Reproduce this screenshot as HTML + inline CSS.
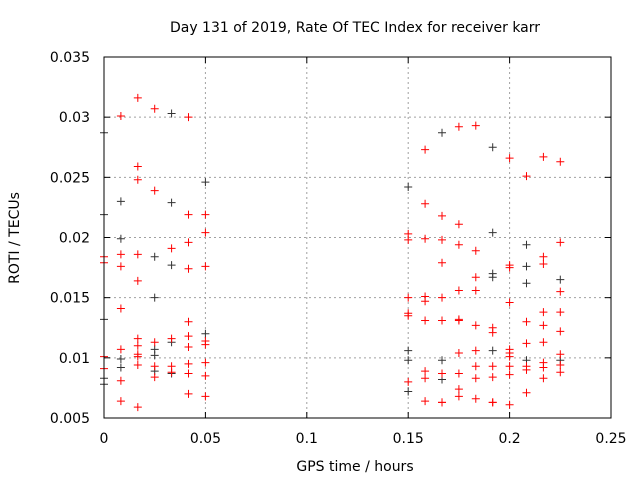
<!DOCTYPE html>
<html><head><meta charset="utf-8"><style>
body{margin:0;background:#fff;}
svg{display:block;font-family:"DejaVu Sans","Liberation Sans",sans-serif;}
</style></head><body>
<svg id="chart" width="640" height="480">
<text x="355" y="32" font-size="14" text-anchor="middle">Day 131 of 2019, Rate Of TEC Index for receiver karr</text>
<text x="355" y="471" font-size="14" text-anchor="middle">GPS time / hours</text>
<text transform="translate(19,238) rotate(-90)" font-size="14" text-anchor="middle">ROTI / TECUs</text>
<g id="grid"></g><g id="marks"></g><g id="axes"></g>
</svg>
<script>
const xTicks=[0,0.05,0.1,0.15,0.2,0.25];
const xTickLabels=["0","0.05","0.1","0.15","0.2","0.25"];
const yTicks=[0.005,0.01,0.015,0.02,0.025,0.03,0.035];
const yTickLabels=["0.005","0.01","0.015","0.02","0.025","0.03","0.035"];
const redTimes=[0,0,0,0,0.00833,0.00833,0.00833,0.00833,0.00833,0.00833,0.00833,
0.01667,0.01667,0.01667,0.01667,0.01667,0.01667,0.01667,0.01667,0.01667,0.01667,0.01667,
0.025,0.025,0.025,0.025,0.025,0.03333,0.03333,0.03333,0.03333,
0.04167,0.04167,0.04167,0.04167,0.04167,0.04167,0.04167,0.04167,0.04167,0.04167,
0.05,0.05,0.05,0.05,0.05,0.05,0.05,0.05,
0.15,0.15,0.15,0.15,0.15,0.15,
0.15833,0.15833,0.15833,0.15833,0.15833,0.15833,0.15833,0.15833,0.15833,
0.16667,0.16667,0.16667,0.16667,0.16667,0.16667,0.16667,0.16667,
0.175,0.175,0.175,0.175,0.175,0.175,0.175,0.175,0.175,0.175,
0.18333,0.18333,0.18333,0.18333,0.18333,0.18333,0.18333,0.18333,0.18333,
0.19167,0.19167,0.19167,0.19167,0.19167,0.19167,
0.2,0.2,0.2,0.2,0.2,0.2,0.2,0.2,0.2,0.2,
0.20833,0.20833,0.20833,0.20833,0.20833,0.20833,
0.21667,0.21667,0.21667,0.21667,0.21667,0.21667,0.21667,0.21667,0.21667,
0.225,0.225,0.225,0.225,0.225,0.225,0.225,0.225];
const redValues=[0.0184,0.0179,0.0101,0.0091,0.0301,0.0186,0.0176,0.0141,0.0107,0.0081,0.0064,
0.0316,0.0259,0.0248,0.0186,0.0164,0.0116,0.0110,0.0103,0.0101,0.0094,0.0059,
0.0307,0.0239,0.0113,0.0093,0.0084,0.0191,0.0116,0.0093,0.0088,
0.0300,0.0219,0.0196,0.0174,0.0130,0.0118,0.0109,0.0095,0.0087,0.0070,
0.0219,0.0204,0.0176,0.0114,0.0111,0.0096,0.0085,0.0068,
0.0203,0.0198,0.0150,0.0137,0.0135,0.0080,
0.0273,0.0228,0.0199,0.0151,0.0147,0.0131,0.0089,0.0083,0.0064,
0.0218,0.0198,0.0179,0.0150,0.0131,0.0087,0.0063,0.0063,
0.0292,0.0211,0.0194,0.0156,0.0132,0.0131,0.0104,0.0087,0.0074,0.0068,
0.0293,0.0189,0.0167,0.0156,0.0127,0.0106,0.0093,0.0083,0.0066,
0.0125,0.0121,0.0093,0.0084,0.0063,0.0063,
0.0266,0.0177,0.0175,0.0146,0.0107,0.0104,0.0101,0.0093,0.0086,0.0061,
0.0251,0.0130,0.0112,0.0093,0.0090,0.0071,
0.0267,0.0184,0.0178,0.0138,0.0127,0.0113,0.0096,0.0092,0.0083,
0.0263,0.0196,0.0155,0.0138,0.0122,0.0103,0.0094,0.0088];
const blackTimes=[0,0,0,0,0,0.00833,0.00833,0.00833,0.00833,0.025,0.025,0.025,0.025,0.025,
0.03333,0.03333,0.03333,0.03333,0.03333,0.05,0.05,
0.15,0.15,0.15,0.15,0.16667,0.16667,0.16667,0.19167,0.19167,0.19167,0.19167,0.19167,
0.20833,0.20833,0.20833,0.20833,0.225,0.225];
const blackValues=[0.0287,0.0219,0.0132,0.0083,0.0078,0.0230,0.0199,0.0099,0.0092,0.0184,0.0150,0.0107,0.0102,0.0089,
0.0303,0.0229,0.0177,0.0113,0.0087,0.0246,0.0120,
0.0242,0.0106,0.0098,0.0072,0.0287,0.0098,0.0082,0.0275,0.0204,0.0170,0.0167,0.0106,
0.0194,0.0176,0.0162,0.0098,0.0165,0.0098];
const L=104,R=611,T=57,B=418,xMin=0,xMax=0.25,yMin=0.005,yMax=0.035;
const xs=v=>L+(v-xMin)/(xMax-xMin)*(R-L);
const ys=v=>B-(v-yMin)/(yMax-yMin)*(B-T);
const NS="http://www.w3.org/2000/svg";
function mk(tag,attrs,parent){const e=document.createElementNS(NS,tag);for(const k in attrs)e.setAttribute(k,attrs[k]);parent.appendChild(e);return e;}
const grid=document.getElementById('grid'),axes=document.getElementById('axes'),marks=document.getElementById('marks');
xTicks.forEach((v,i)=>{const x=xs(v);
 if(i>0&&i<xTicks.length-1){const g=mk('line',{x1:x,x2:x,y1:T,y2:B,stroke:'#a0a0a0','stroke-dasharray':'2,3'},grid);
 
 }
 mk('line',{x1:x,x2:x,y1:B,y2:B-6,stroke:'#000'},axes);mk('line',{x1:x,x2:x,y1:T,y2:T+6,stroke:'#000'},axes);
 const t=mk('text',{x:x,y:B+25,'font-size':14,'text-anchor':'middle'},axes);t.textContent=xTickLabels[i];
 
 });
yTicks.forEach((v,i)=>{const y=ys(v);
 if(i>0&&i<yTicks.length-1){const g=mk('line',{x1:L,x2:R,y1:y,y2:y,stroke:'#a0a0a0','stroke-dasharray':'2,3'},grid);
 
 }
 mk('line',{x1:L,x2:L+6,y1:y,y2:y,stroke:'#000'},axes);mk('line',{x1:R,x2:R-6,y1:y,y2:y,stroke:'#000'},axes);
 const t=mk('text',{x:90,y:y+5,'font-size':14,'text-anchor':'end'},axes);t.textContent=yTickLabels[i];
 
 });
const fr=mk('rect',{x:L,y:T,width:R-L,height:B-T,fill:'none',stroke:'#000'},axes);


function plus(tv,vv,color,name){tv.forEach((t,i)=>{const x=xs(t),y=ys(vv[i]);
 const p=mk('path',{d:`M${x-4},${y}H${x+4}M${x},${y-4}V${y+4}`,stroke:color,'stroke-width':1},marks);
 
 });}
plus(blackTimes,blackValues,'#333','roti-point-black');
plus(redTimes,redValues,'#ff0000','roti-point-red');
</script>
</body></html>
